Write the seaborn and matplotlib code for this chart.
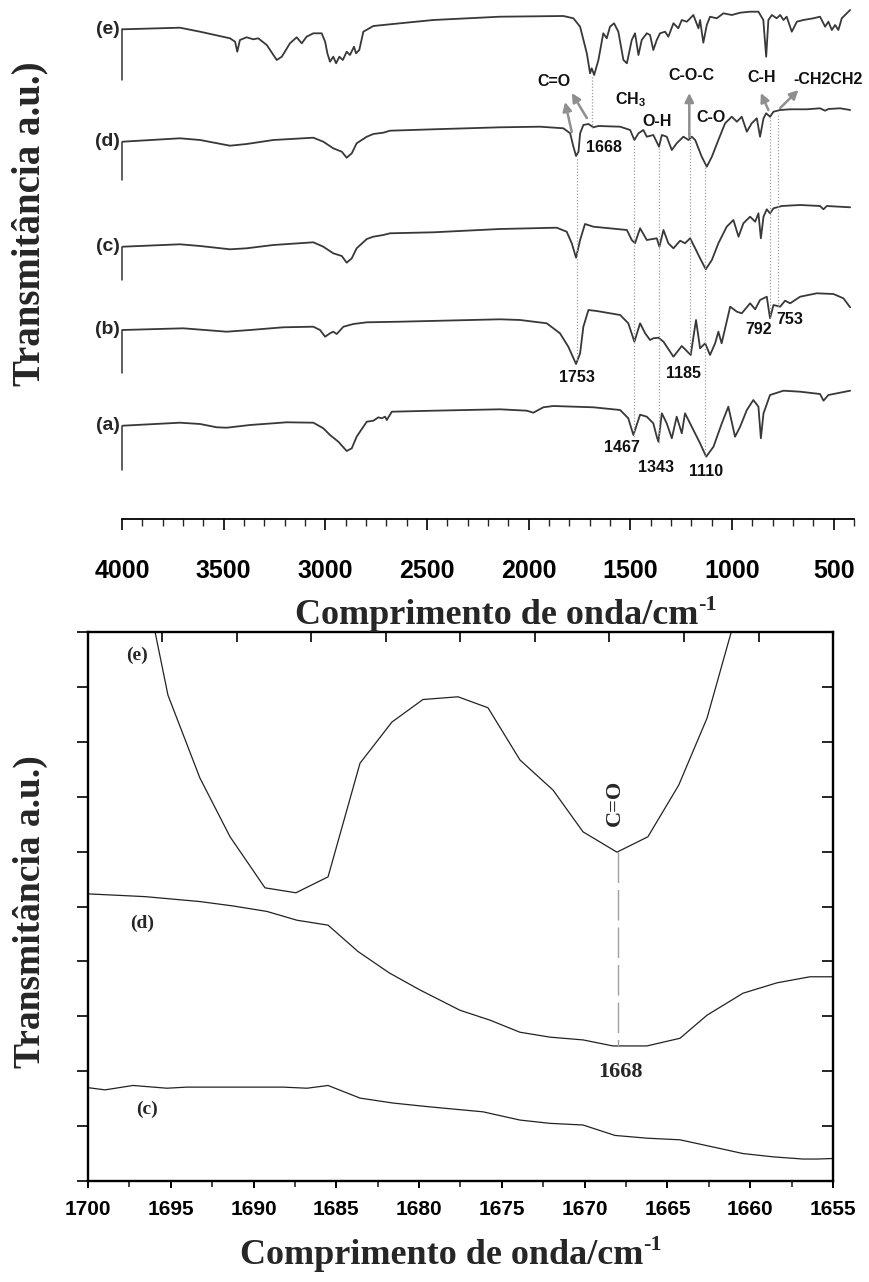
import numpy as np
import matplotlib
matplotlib.use("Agg")
import matplotlib.pyplot as plt
from matplotlib.patches import FancyArrowPatch
import seaborn as sns

sns.set_theme(style="white")
plt.rcParams['font.family'] = ['Liberation Sans', 'DejaVu Sans']
plt.rcParams['mathtext.fontset'] = 'custom'
plt.rcParams['mathtext.rm'] = 'Liberation Sans'
plt.rcParams['mathtext.bf'] = 'Liberation Sans:bold'

# ---------------- top panel: FTIR spectra (wavenumber cm-1, relative transmittance) ----------------
wn_a = [3997, 3715, 3616, 3534, 3485, 3370, 3190, 3059, 3010, 2977, 2936, 2895, 2870, 2846, 2813,
        2796, 2764, 2739, 2723, 2706, 2698, 2673, 2469, 2141, 2009, 1977, 1928, 1879, 1682, 1550,
        1510, 1485, 1452, 1419, 1387, 1370, 1362, 1345, 1321, 1296, 1272, 1247, 1231, 1198, 1157,
        1127, 1091, 1050, 1018, 985, 960, 927, 895, 870, 858, 845, 813, 747, 665, 567, 550, 526, 419]
t_a = [0, 3, 1.7, -1.6, -2, 0.7, 3.4, 3, -2.6, -9.3, -16, -25.3, -22.6, -11, -1,
       4, 5, 8.4, 7.4, 9, 5.7, 14, 15, 16.4, 15, 13, 18.4, 19.7, 18.4, 15.7,
       7.4, -9.3, 11, 9, 2.4, -11, -16, 12.4, 2.4, -12.6, 9, -7.6, 12.4, -1, -17.6,
       -31, -21, 2.4, 19, -11, -1, 15.7, 25.7, 19, -12.6, 12.4, 30.7, 35, 34, 31.7, 25, 30.7, 35]

wn_b = [3997, 3699, 3485, 3370, 3207, 3059, 3026, 3001, 2977, 2961, 2944, 2911, 2862, 2796, 2633,
        2141, 2042, 1911, 1846, 1805, 1767, 1747, 1731, 1706, 1665, 1550, 1510, 1480, 1452, 1427,
        1403, 1387, 1362, 1337, 1288, 1247, 1203, 1177, 1157, 1132, 1108, 1083, 1067, 1051, 1009,
        976, 952, 911, 886, 862, 829, 813, 796, 763, 739, 714, 665, 583, 501, 452, 419]
t_b = [0, 1.7, -1.7, 0, 2.7, 3.3, 0, -6.7, -3.3, -1.7, -4, 3.3, 6, 7.7, 8.3,
       10.7, 10, 6.7, -3.3, -16.7, -34, -23.3, 3.3, 20, 19, 15, 6.7, -11.7, 6.7, -3.3,
       -10, -8.3, -7.7, -11.7, -26.7, -16, -25, 10, -18.3, -13.3, -25, -13.3, -1.7, -13.3, 23.3,
       18.3, 16.7, 26.7, 20.7, 30, 33.3, 11.7, 25, 23.3, 29.3, 26.7, 33.3, 36.7, 36, 31.7, 22.7]

wn_c = [3997, 3715, 3616, 3469, 3387, 3256, 3059, 3010, 2961, 2919, 2895, 2870, 2846, 2796, 2764,
        2715, 2682, 2469, 2141, 1862, 1813, 1788, 1767, 1747, 1723, 1682, 1517, 1493, 1477, 1452,
        1419, 1370, 1357, 1337, 1313, 1288, 1255, 1231, 1206, 1181, 1157, 1129, 1099, 1067, 1026,
        993, 968, 944, 911, 886, 870, 858, 845, 829, 813, 796, 755, 665, 567, 550, 534, 419]
t_c = [0, 2.4, 0.7, -2.6, -1.6, 1.7, 4.4, 0, -6.6, -9.3, -16, -11.6, -1.6, 7.7, 10,
       11.7, 13.4, 14.4, 17.7, 19, 15, 3.4, -11, 6.7, 22.7, 20, 16.7, 6.7, 3.4, 18.4,
       6.7, 8.4, 0, 16.7, 3.4, -1.6, 6, 3.4, 8.4, -1.6, -11.6, -22.6, -13.3, 3.4, 20,
       26.7, 10, 23.4, 30, 25, 33.4, 8.4, 30, 37.4, 33.4, 38.4, 40.7, 41.7, 40.7, 37.4, 40.7, 39.4]

wn_d = [3997, 3715, 3616, 3469, 3387, 3256, 3059, 3010, 2961, 2919, 2895, 2870, 2846, 2796, 2764,
        2715, 2682, 2469, 2141, 1944, 1829, 1796, 1780, 1767, 1755, 1747, 1731, 1706, 1682, 1657,
        1550, 1501, 1480, 1460, 1436, 1419, 1387, 1359, 1345, 1321, 1296, 1272, 1239, 1214, 1198,
        1181, 1149, 1124, 1099, 1067, 1034, 1001, 976, 952, 927, 903, 878, 862, 845, 832, 813,
        796, 763, 714, 632, 567, 542, 526, 468, 419]
t_d = [0, 3.4, 1.7, -4, -2.3, 1.7, 4, 0, -6.6, -10, -16, -11.6, -1.6, 5, 7.7,
       9, 11, 12.4, 14.4, 15, 13.4, 8.4, -5, -14.3, -10, 8.4, 16.7, 17.7, 14.4, 15.7,
       15, 11.7, 1.7, 8.4, 11.7, 5, 6.7, -5, 6.7, 5, -8.3, -1.6, 5, 1.7, 5,
       1.7, -15, -25, -15, 1.7, 18.4, 25, 20, 25, 10, 18.4, 23.4, 5, 23.4, 28.4, 25,
       30, 31.7, 32.4, 32.4, 33.4, 31, 32.7, 33.4, 31.7]

wn_e = [3997, 3715, 3616, 3469, 3444, 3433, 3420, 3387, 3354, 3330, 3288, 3239, 3214, 3174, 3141,
        3116, 3092, 3059, 3018, 3001, 2990, 2977, 2961, 2947, 2931, 2914, 2895, 2879, 2859, 2849,
        2833, 2813, 2764, 2633, 2469, 2141, 1829, 1780, 1747, 1714, 1698, 1690, 1678, 1657, 1633,
        1616, 1600, 1580, 1559, 1534, 1517, 1493, 1477, 1460, 1444, 1419, 1403, 1387, 1370, 1354,
        1329, 1313, 1288, 1264, 1247, 1222, 1190, 1165, 1157, 1141, 1124, 1108, 1075, 1042, 1001,
        960, 911, 870, 846, 832, 821, 804, 780, 763, 747, 731, 706, 681, 649, 600, 567, 542,
        526, 509, 493, 477, 460, 444, 419]
t_e = [0, 1.6, -2.4, -9, -12.4, -22.4, -10.7, -8, -10, -9, -15.7, -30.7, -27.4, -14, -8,
       -14, -7.4, -4, -4, -12.4, -24, -32.4, -27.4, -34, -27.4, -30.7, -22.4, -25.7, -17.4, -24,
       -20.7, -2.4, 3.3, 6, 9.3, 12.6, 13.3, 11, 2.6, -24, -44, -39, -45.7, -30.7, -4,
       -9, 2.6, 6, -2.4, -30.7, -34, -10.7, -4, -25.7, -10.7, -4, -5.7, -20.7, -10.7, -4,
       -2.4, -7.4, 6, 1, 9.3, 7.6, 14.3, 1, 9.3, -13.4, 4.3, 12.6, 11, 16, 14.3,
       16.6, 17.6, 17.6, 9.3, -27.4, 9.3, 14.3, 11, 14.3, 9.3, 12.6, -2.4, 7.6, 9.3, 11, 12.6, 2.6,
       7.6, -0.7, 4.3, -0.7, 11, 14.3, 19.3]

spectra_labels = ['(a)', '(b)', '(c)', '(d)', '(e)']
top_xticks = [4000, 3500, 3000, 2500, 2000, 1500, 1000, 500]

# peak marks: dotted guide lines (drawn position), label text
peak_lines_wn = [1762, 1688, 1481, 1358, 1206, 1132, 812, 773]
peak_numbers = ['1753', '1668', '1467', '1343', '1185', '1110', '792', '753']
group_names = ['C=O', 'CH$_\\mathbf{3}$', 'O-H', 'C-O-C', 'C-O', 'C-H', '-CH2CH2']

# ---------------- bottom panel: zoom 1700-1655 cm-1 ----------------
wn_ze = [1697.10, 1695.17, 1693.24, 1691.42, 1689.31, 1687.44, 1685.50, 1683.57, 1681.64, 1679.77,
         1677.65, 1675.84, 1673.91, 1671.91, 1670.10, 1668.05, 1666.18, 1664.32, 1662.61, 1660.68]
t_ze = [11.7, 8.85, 7.34, 6.27, 5.34, 5.25, 5.54, 7.61, 8.36, 8.77,
        8.82, 8.62, 7.67, 7.12, 6.36, 5.99, 6.27, 7.21, 8.43, 10.5]
wn_zd = [1700.0, 1696.56, 1693.24, 1691.24, 1689.19, 1687.38, 1685.50, 1683.69, 1681.8, 1679.95,
         1677.53, 1675.72, 1673.91, 1672.09, 1670.10, 1668.29, 1666.24, 1664.24, 1662.61, 1660.44,
         1658.38, 1656.39, 1655.0]
t_zd = [5.23, 5.18, 5.09, 5.01, 4.91, 4.75, 4.66, 4.18, 3.79, 3.48,
        3.11, 2.93, 2.71, 2.62, 2.57, 2.46, 2.46, 2.60, 3.02, 3.42,
        3.61, 3.72, 3.72]
wn_zc = [1700.0, 1698.97, 1697.28, 1695.23, 1694.02, 1688.22, 1686.77, 1685.50, 1683.57, 1681.58,
         1679.34, 1676.14, 1673.91, 1672.09, 1670.10, 1668.17, 1666.24, 1664.24, 1662.25, 1660.44,
         1658.62, 1656.81, 1655.97, 1655.0]
t_zc = [1.70, 1.66, 1.74, 1.69, 1.71, 1.71, 1.69, 1.74, 1.51, 1.42,
        1.35, 1.26, 1.11, 1.05, 1.02, 0.83, 0.78, 0.75, 0.62, 0.50,
        0.44, 0.40, 0.40, 0.41]
zoom_xticks = [1700, 1695, 1690, 1685, 1680, 1675, 1670, 1665, 1660, 1655]
zoom_peak = 1668

W, H = 869, 1282
fig = plt.figure(figsize=(W / 100, H / 100), dpi=100)
fig.patch.set_facecolor('white')

def fx(px):
    return px / W

def fy(py):
    return 1 - py / H

SERIF = ['Liberation Serif', 'DejaVu Serif']

def label_with_sup(cx, cy, size):
    t = fig.text(fx(cx), fy(cy), 'Comprimento de onda/cm', ha='center', va='center',
                 fontsize=size, fontweight='bold', family=SERIF)
    fig.canvas.draw()
    bb = t.get_window_extent()
    fig.text((bb.x1 - 1) / W, (bb.y1 + 4) / H, '-1', ha='left', va='top',
             fontsize=size * 0.62, fontweight='bold', family=SERIF)

# ===================== TOP PANEL =====================
axt = fig.add_axes([fx(122), fy(519), fx(854) - fx(122), fy(0) - fy(519)])
axt.set_xlim(4000, 400)
axt.set_ylim(0, 519)
axt.set_facecolor('none')
for s in ['top', 'left', 'right']:
    axt.spines[s].set_visible(False)
axt.spines['bottom'].set_color('black')
axt.spines['bottom'].set_linewidth(1.3)
axt.set_yticks([])
axt.set_xticks(top_xticks)
axt.set_xticks(np.arange(4000, 399, -100), minor=True)
axt.tick_params(axis='x', which='major', direction='out', length=8, width=1.2, pad=21,
                labelsize=18, bottom=True, colors='black')
axt.tick_params(axis='x', which='minor', direction='out', length=5, width=1.0, bottom=True)
for lab in axt.get_xticklabels():
    lab.set_fontweight('bold')
axt.grid(False)

offsets = [93.3, 189, 272.3, 377.3, 489.7]
bar_len = [44, 43, 33, 38, 51]
series = [(wn_a, t_a), (wn_b, t_b), (wn_c, t_c), (wn_d, t_d), (wn_e, t_e)]
for (wn, tt), off, lab, bl in zip(series, offsets, spectra_labels, bar_len):
    yy = off + np.asarray(tt, dtype=float)
    sns.lineplot(x=wn, y=yy, ax=axt, sort=False, estimator=None, color='#383838', lw=1.3)
    axt.plot([4000, 4000], [off, off - bl], color='#333333', lw=1.1, clip_on=False)
    axt.text(4012, off, lab, ha='right', va='center', fontsize=14, fontweight='bold', clip_on=False)

# dotted guide lines  (y extents in panel units)
guide_top = [362, 444, 376, 372, 386, 352, 404, 404]
guide_bot = [159, 391, 82, 76, 166, 63, 201, 212]
for w, y0, y1 in zip(peak_lines_wn, guide_top, guide_bot):
    axt.plot([w, w], [y1, y0], color='#a0a0a0', lw=0.9, ls=(0, (1, 1.5)))

# number labels
num_pos = [(1763, 142), (1632, 371), (1542, 72), (1373, 51), (1239, 145), (1127, 47), (867, 189), (714, 200)]
for txt, (x, y) in zip(peak_numbers, num_pos):
    axt.text(x, y, txt, ha='center', va='center', fontsize=11.5, fontweight='bold', color='#111111')

grp_pos = [(1878, 437), (1497, 419), (1370, 397), (1198, 443), (1104, 402), (853, 441), (526, 439)]
for txt, (x, y) in zip(group_names, grp_pos):
    axt.text(x, y, txt, ha='center', va='center', fontsize=11.5, fontweight='bold', color='#111111')

arrows = [((1788, 387), (1821, 417)), ((1714, 401), (1788, 426)), ((1210, 382), (1210, 426)),
          ((821, 409), (858, 426)), ((763, 411), (673, 429))]
for (x0, y0), (x1, y1) in arrows:
    axt.add_patch(FancyArrowPatch((x0, y0), (x1, y1), arrowstyle='-|>', mutation_scale=13,
                                  color='#8f8f8f', lw=1.8, shrinkA=0, shrinkB=0))

fig.text(fx(30), fy(224), 'Transmitância a.u.)', ha='center', va='center', rotation=90,
         fontsize=28, fontweight='bold', family=SERIF)

# ===================== BOTTOM PANEL =====================
axb = fig.add_axes([fx(88), fy(1181), fx(833) - fx(88), fy(632) - fy(1181)])
axb.set_xlim(1700, 1655)
axb.set_ylim(0, 10)
axb.set_facecolor('white')
for s in axb.spines.values():
    s.set_visible(True)
    s.set_color('black')
    s.set_linewidth(1.7)
axb.grid(False)

for wn, tt in [(wn_ze, t_ze), (wn_zd, t_zd), (wn_zc, t_zc)]:
    sns.lineplot(x=wn, y=tt, ax=axb, sort=False, estimator=None, color='#222222', lw=0.9)

# dashed marker from curve (e) down to curve (d) at the C=O band
y_e_peak = float(np.interp(zoom_peak, wn_ze[::-1], t_ze[::-1]))
y_d_peak = float(np.interp(zoom_peak, wn_zd[::-1], t_zd[::-1]))
axb.plot([zoom_peak, zoom_peak], [y_e_peak, y_d_peak], color='#a0a0a0', lw=1.0, ls=(0, (22, 5)))

axb.set_xticks(zoom_xticks)
axb.set_xticks(np.arange(1700, 1654, -2.5), minor=True)
axb.tick_params(axis='x', which='major', direction='out', length=5, width=1.4, pad=9,
                labelsize=15, bottom=True, top=False, colors='black')
axb.tick_params(axis='x', which='minor', direction='out', length=4, width=1.2, bottom=True, top=False)
for lab in axb.get_xticklabels():
    lab.set_fontweight('bold')
axb.set_yticks(np.arange(0, 11, 1))
axb.tick_params(axis='y', which='major', direction='out', length=8, width=1.4, left=True,
                right=False, labelleft=False)

sec_x = axb.secondary_xaxis('top')
sec_x.set_xticks([1700 - 4.5 * k for k in range(1, 10)])
sec_x.tick_params(axis='x', direction='in', length=7, width=1.4, labeltop=False)
sec_x.spines['top'].set_visible(False)
sec_y = axb.secondary_yaxis('right')
sec_y.set_yticks(np.arange(1, 10, 1))
sec_y.tick_params(axis='y', direction='in', length=8, width=1.4, labelright=False)
sec_y.spines['right'].set_visible(False)

axb.text(1697.04, 9.58, '(e)', ha='center', va='center', fontsize=14, fontweight='bold', family=SERIF)
axb.text(1696.74, 4.70, '(d)', ha='center', va='center', fontsize=14, fontweight='bold', family=SERIF)
axb.text(1696.44, 1.31, '(c)', ha='center', va='center', fontsize=14, fontweight='bold', family=SERIF)
axb.text(1668.17, 6.89, 'C=O', ha='center', va='center', rotation=90, fontsize=16, fontweight='bold', family=SERIF)
axb.text(1667.81, 1.99, '1668', ha='center', va='center', fontsize=16, fontweight='bold', family=SERIF)

fig.text(fx(30), fy(912), 'Transmitância a.u.)', ha='center', va='center', rotation=90,
         fontsize=27, fontweight='bold', family=SERIF)

label_with_sup(497, 615, 26)
label_with_sup(442, 1256, 26)

fig.savefig('out.png', dpi=100, facecolor='white')
